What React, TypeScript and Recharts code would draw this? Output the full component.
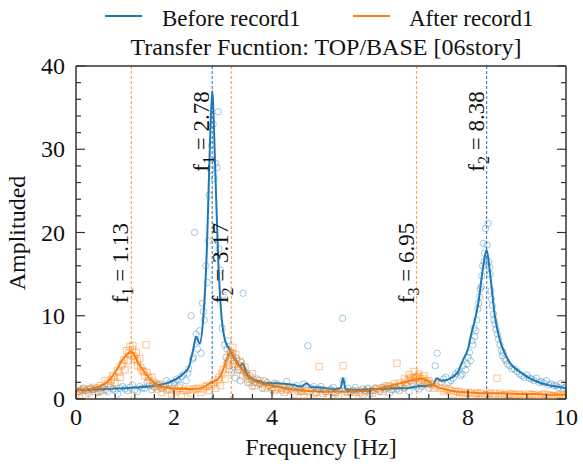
import { ComposedChart, Line, Scatter, XAxis, YAxis, ReferenceLine } from 'recharts'

const BLUE = '#1f77b4'
const ORANGE = '#ff7f0e'
const AXIS = '#333'
const FONT = '"Liberation Serif", "Times New Roman", serif'

const xTicks = [0, 0.4, 0.8, 1.2, 1.6, 2, 2.4, 2.8, 3.2, 3.6, 4, 4.4, 4.8, 5.2, 5.6, 6, 6.4, 6.8, 7.2, 7.6, 8, 8.4, 8.8, 9.2, 9.6, 10]
const yTicks = [0, 2, 4, 6, 8, 10, 12, 14, 16, 18, 20, 22, 24, 26, 28, 30, 32, 34, 36, 38, 40]

// smoothed transfer function, before record1
const beforeFreq = [0, 0.3, 0.6, 1.0, 1.3, 1.6, 1.9, 2.1, 2.2, 2.3, 2.39, 2.45, 2.52, 2.6, 2.67, 2.73, 2.78, 2.84, 2.9, 2.97, 3.04, 3.14, 3.22, 3.28, 3.34, 3.4, 3.48, 3.6, 3.75, 3.85, 4.1, 4.43, 4.6, 4.71, 4.8, 4.91, 5.1, 5.3, 5.4, 5.45, 5.5, 5.6, 5.8, 6.0, 6.27, 6.5, 6.75, 6.95, 7.15, 7.29, 7.36, 7.45, 7.57, 7.7, 7.8, 7.9, 8.0, 8.07, 8.14, 8.21, 8.31, 8.38, 8.45, 8.55, 8.65, 8.75, 8.86, 9.0, 9.2, 9.4, 9.61, 9.8, 10]
const beforeAmp = [1.1, 1.1, 1.2, 1.3, 1.4, 1.6, 2.0, 2.6, 3.1, 3.8, 5.9, 7.5, 6.7, 9.9, 17.9, 29.9, 37.0, 27.9, 17.1, 9.9, 7.1, 5.9, 5.0, 4.5, 3.9, 4.3, 3.1, 2.4, 2.1, 1.9, 1.9, 1.7, 1.5, 1.9, 1.4, 1.4, 1.3, 1.2, 1.3, 2.5, 1.2, 1.1, 1.1, 1.2, 1.2, 1.3, 1.3, 1.5, 1.6, 1.7, 2.5, 2.2, 2.3, 2.7, 3.3, 4.7, 6.0, 7.9, 9.5, 11.5, 15.9, 17.9, 15.1, 9.9, 7.1, 5.5, 4.3, 3.5, 2.7, 2.1, 1.7, 1.5, 1.3]

// smoothed transfer function, after record1
const afterFreq = [0, 0.3, 0.55, 0.7, 0.83, 0.97, 1.05, 1.12, 1.2, 1.27, 1.35, 1.44, 1.55, 1.65, 1.8, 1.92, 2.2, 2.39, 2.6, 2.73, 2.85, 2.94, 3.02, 3.07, 3.16, 3.22, 3.28, 3.38, 3.46, 3.55, 3.76, 4.1, 4.5, 4.91, 5.25, 5.6, 5.93, 6.15, 6.34, 6.5, 6.61, 6.75, 6.88, 7.0, 7.09, 7.2, 7.29, 7.4, 7.57, 7.75, 7.97, 8.3, 8.65, 9.0, 9.4, 9.7, 10]
const afterAmp = [1.0, 1.2, 1.7, 2.4, 3.5, 4.9, 5.4, 5.7, 5.2, 4.3, 3.6, 2.9, 2.2, 1.7, 1.4, 1.3, 1.2, 1.2, 1.4, 1.9, 2.2, 2.7, 3.8, 4.7, 5.7, 5.1, 4.3, 3.7, 3.0, 2.5, 1.9, 1.5, 1.1, 0.9, 0.9, 0.9, 1.0, 1.2, 1.5, 1.7, 1.9, 2.1, 2.3, 2.4, 2.4, 2.1, 1.7, 1.4, 1.1, 0.9, 0.8, 0.7, 0.7, 0.6, 0.6, 0.5, 0.5]

// raw spectrum points [freq, amp]
const beforeRaw = [
  [0.05, 0.9], [0.15, 1.3], [0.25, 0.7], [0.35, 1.1], [0.45, 0.8], [0.55, 1.4], [0.65, 0.9], [0.75, 1.2], [0.85, 0.6], [0.95, 1.5],
  [1.05, 1.0], [1.15, 1.7], [1.25, 0.9], [1.35, 1.3], [1.45, 2.0], [1.55, 1.1], [1.65, 1.8], [1.75, 1.3], [1.85, 2.2], [1.95, 1.6],
  [2.05, 2.4], [2.12, 1.7], [2.2, 3.0], [2.25, 2.2], [2.3, 3.6], [2.35, 10.0], [2.38, 4.8], [2.42, 20.0], [2.45, 7.8], [2.48, 6.0],
  [2.52, 8.2], [2.55, 5.5], [2.58, 11.5], [2.62, 9.5], [2.65, 16], [2.68, 14], [2.7, 19], [2.72, 24.5], [2.75, 27.5], [2.77, 30.5],
  [2.8, 33], [2.82, 26.5], [2.85, 28.3], [2.88, 27.8], [2.9, 34.5], [2.92, 18], [2.95, 15.5], [2.98, 8.5], [3.0, 12.5], [3.03, 6.5],
  [3.06, 5.0], [3.1, 7.0], [3.13, 4.0], [3.17, 3.2], [3.2, 5.2], [3.25, 2.5], [3.3, 3.8], [3.35, 2.2], [3.41, 12.7], [3.45, 3.2],
  [3.5, 2.0], [3.55, 2.8], [3.6, 1.5], [3.7, 2.4], [3.8, 1.3], [3.9, 2.0], [4.0, 1.1], [4.1, 1.8], [4.2, 1.0], [4.3, 2.1],
  [4.4, 1.2], [4.5, 1.6], [4.6, 0.9], [4.73, 6.4], [4.8, 1.3], [4.9, 0.8], [5.0, 1.5], [5.1, 0.9], [5.2, 1.2], [5.3, 0.7],
  [5.44, 9.7], [5.5, 1.1], [5.6, 0.8], [5.7, 1.4], [5.8, 0.7], [5.9, 1.0], [6.0, 0.6], [6.1, 1.3], [6.2, 0.9], [6.3, 1.2],
  [6.4, 0.7], [6.5, 1.5], [6.6, 1.0], [6.7, 1.3], [6.8, 0.9], [6.9, 1.6], [7.0, 1.2], [7.1, 1.8], [7.2, 1.3], [7.33, 4.0],
  [7.37, 5.5], [7.45, 2.0], [7.55, 2.6], [7.65, 2.2], [7.75, 3.0], [7.85, 2.8], [7.9, 4.0], [7.95, 3.5], [8.0, 5.0], [8.05, 4.6],
  [8.1, 6.5], [8.14, 7.5], [8.18, 9.5], [8.22, 11.5], [8.25, 13.2], [8.28, 14.8], [8.31, 18.7], [8.34, 17.5], [8.36, 20.5], [8.41, 21.1],
  [8.42, 16.5], [8.45, 15.0], [8.48, 12.0], [8.52, 10.2], [8.55, 9.0], [8.6, 7.8], [8.65, 6.5], [8.7, 5.2], [8.75, 4.8], [8.8, 4.2],
  [8.9, 3.6], [9.0, 3.3], [9.1, 2.8], [9.2, 2.9], [9.3, 2.4], [9.4, 2.5], [9.5, 2.1], [9.6, 2.2], [9.7, 1.8], [9.8, 1.6],
  [9.9, 1.9], [10.0, 1.4],
  [0.1, 1.1], [0.2, 1.0], [0.3, 1.3], [0.4, 1.2], [0.5, 0.9], [0.6, 1.1], [0.7, 1.4], [0.8, 1.0], [0.9, 1.3], [1.0, 1.2],
  [1.1, 1.4], [1.2, 1.1], [1.3, 1.5], [1.4, 1.3], [1.5, 1.6], [1.6, 1.4], [1.7, 1.7], [1.8, 1.5], [1.9, 1.9], [2.0, 2.0],
  [2.08, 2.2], [2.15, 2.7], [2.28, 3.1], [2.4, 5.0], [2.5, 6.9], [2.6, 10.5], [3.08, 6.0], [3.15, 5.6], [3.22, 4.6], [3.28, 4.9],
  [3.32, 3.5], [3.38, 4.4], [3.48, 2.9], [3.58, 2.3], [3.65, 2.0], [3.75, 1.8], [3.85, 2.2], [3.95, 1.6], [4.05, 1.9], [4.25, 1.5],
  [4.35, 1.4], [4.55, 1.2], [4.65, 1.8], [4.85, 1.5], [4.95, 1.2], [5.05, 1.1], [5.25, 1.4], [5.35, 1.0], [5.45, 2.2], [5.55, 1.3],
  [5.65, 1.0], [5.85, 1.2], [5.95, 1.3], [6.05, 1.0], [6.25, 1.4], [6.45, 1.1], [6.55, 1.2], [6.75, 1.6], [6.95, 1.4], [7.05, 1.5],
  [7.25, 1.8], [7.5, 2.4], [7.6, 2.0], [7.7, 2.5], [7.8, 3.3], [7.88, 3.0], [7.98, 4.2], [8.03, 5.6], [8.08, 7.0], [8.12, 8.5],
  [8.16, 8.2], [8.2, 10.8], [8.24, 12.3], [8.27, 13.5], [8.3, 16.0], [8.33, 16.5], [8.39, 18.5], [8.44, 15.8], [8.47, 13.0], [8.5, 11.2],
  [8.53, 9.5], [8.57, 8.4], [8.62, 7.2], [8.68, 5.8], [8.72, 5.6], [8.78, 4.6], [8.85, 4.0], [8.95, 3.6], [9.05, 3.0], [9.15, 2.6],
  [9.25, 2.5], [9.35, 2.2], [9.45, 2.0], [9.55, 1.9], [9.65, 1.7], [9.75, 1.6], [9.85, 1.4], [9.95, 1.3],
]
const afterRaw = [
  [0.0, 0.6], [0.1, 1.0], [0.2, 0.5], [0.3, 1.2], [0.4, 0.9], [0.5, 1.6], [0.55, 1.0], [0.6, 2.2], [0.7, 1.6], [0.75, 2.8],
  [0.8, 2.0], [0.85, 3.4], [0.9, 2.6], [0.95, 4.2], [1.0, 3.5], [1.03, 5.8], [1.06, 4.6], [1.1, 6.3], [1.13, 5.2], [1.16, 6.4],
  [1.2, 4.8], [1.23, 5.6], [1.26, 4.0], [1.3, 4.9], [1.35, 3.4], [1.43, 6.5], [1.4, 2.8], [1.45, 3.2], [1.5, 2.2], [1.55, 2.6],
  [1.6, 1.6], [1.65, 1.2], [1.7, 1.8], [1.75, 0.8], [1.85, 1.1], [1.95, 0.6], [2.05, 0.9], [2.15, 0.5], [2.25, 1.0], [2.35, 0.7],
  [2.45, 1.2], [2.55, 0.8], [2.65, 1.5], [2.72, 1.0], [2.8, 1.8], [2.85, 1.3], [2.9, 2.3], [2.95, 1.6], [3.0, 3.5], [3.05, 2.4],
  [3.1, 4.5], [3.13, 3.6], [3.17, 5.0], [3.2, 6.2], [3.23, 4.2], [3.26, 5.3], [3.3, 3.5], [3.35, 4.5], [3.4, 2.8], [3.45, 3.8],
  [3.5, 2.4], [3.55, 2.0], [3.6, 3.0], [3.65, 1.6], [3.75, 2.2], [3.85, 1.3], [3.95, 1.7], [4.05, 1.0], [4.15, 1.4], [4.25, 0.8],
  [4.35, 1.2], [4.45, 0.6], [4.55, 1.0], [4.65, 0.5], [4.75, 0.9], [4.85, 0.6], [4.96, 3.9], [5.05, 0.7], [5.15, 0.4], [5.25, 0.9],
  [5.35, 0.5], [5.45, 4.0], [5.55, 0.8], [5.65, 0.4], [5.75, 1.0], [5.85, 0.6], [5.95, 1.1], [6.05, 0.7], [6.15, 1.3], [6.25, 0.9],
  [6.35, 1.6], [6.45, 1.2], [6.55, 4.3], [6.6, 1.9], [6.65, 1.4], [6.7, 2.4], [6.75, 1.8], [6.8, 2.9], [6.85, 2.2], [6.9, 3.3],
  [6.95, 2.6], [7.0, 3.0], [7.05, 2.1], [7.1, 2.8], [7.15, 1.7], [7.2, 2.2], [7.3, 1.3], [7.4, 1.7], [7.5, 0.9], [7.6, 1.2],
  [7.7, 0.6], [7.8, 0.9], [7.9, 0.5], [8.0, 0.8], [8.1, 0.4], [8.2, 0.7], [8.3, 0.3], [8.4, 0.6], [8.5, 0.4], [8.59, 2.5],
  [8.7, 0.5], [8.8, 0.3], [8.9, 0.6], [9.0, 0.3], [9.1, 0.5], [9.2, 0.2], [9.3, 0.5], [9.4, 0.3], [9.5, 0.5], [9.6, 0.2],
  [9.7, 0.4], [9.8, 0.3], [9.9, 0.5], [10.0, 0.2],
  [0.05, 0.9], [0.15, 1.2], [0.25, 1.1], [0.35, 1.4], [0.45, 1.3], [0.65, 1.9], [0.72, 2.3], [0.78, 2.6], [0.88, 3.2], [0.92, 4.0],
  [0.98, 4.7], [1.08, 5.5], [1.15, 5.9], [1.18, 5.1], [1.25, 4.6], [1.32, 3.8], [1.38, 3.3], [1.48, 2.6], [1.58, 2.0], [1.68, 1.5],
  [1.78, 1.3], [1.9, 1.2], [2.0, 1.1], [2.1, 1.3], [2.2, 1.0], [2.3, 1.2], [2.4, 1.1], [2.5, 1.3], [2.6, 1.2], [2.68, 1.6],
  [2.76, 1.5], [2.82, 2.0], [2.92, 2.6], [2.98, 3.0], [3.08, 4.1], [3.15, 5.6], [3.19, 5.5], [3.28, 4.6], [3.32, 4.0], [3.42, 3.4],
  [3.48, 3.0], [3.58, 2.5], [3.7, 2.0], [3.8, 1.8], [3.9, 1.5], [4.0, 1.4], [4.1, 1.2], [4.2, 1.3], [4.3, 1.1], [4.4, 1.0],
  [4.6, 0.9], [4.7, 1.0], [4.9, 0.8], [5.1, 0.9], [5.3, 0.8], [5.5, 0.9], [5.7, 0.8], [5.9, 0.9], [6.1, 1.1], [6.2, 1.2],
  [6.3, 1.4], [6.4, 1.5], [6.5, 1.8], [6.72, 2.0], [6.78, 2.3], [6.82, 2.5], [6.88, 2.6], [6.92, 2.5], [6.98, 2.7], [7.02, 2.4],
  [7.08, 2.5], [7.12, 2.2], [7.18, 2.0], [7.25, 1.8], [7.35, 1.5], [7.45, 1.3], [7.55, 1.1], [7.65, 1.0], [7.75, 0.9], [7.85, 0.8],
  [7.95, 0.7], [8.05, 0.7], [8.15, 0.6], [8.25, 0.7], [8.35, 0.5], [8.45, 0.7], [8.55, 0.6], [8.65, 0.7], [8.75, 0.5], [8.85, 0.6],
  [8.95, 0.5], [9.05, 0.6], [9.15, 0.4], [9.25, 0.6], [9.35, 0.5], [9.45, 0.4], [9.55, 0.6], [9.65, 0.5], [9.75, 0.4], [9.85, 0.5],
  [9.95, 0.4],
]

const beforePeaks = [2.78, 8.38]
const afterPeaks = [1.13, 3.17, 6.95]

const toPts = (xs: number[], ys: number[]) => xs.map((x, i) => ({ x, y: ys[i] }))
const beforeLine = toPts(beforeFreq, beforeAmp)
const afterLine = toPts(afterFreq, afterAmp)
const beforePts = beforeRaw.map(([x, y]) => ({ x, y }))
const afterPts = afterRaw.map(([x, y]) => ({ x, y }))

const txt = { fontFamily: FONT, fontSize: 24, fill: '#111' }

const BottomTick = ({ x, y, payload }: any) => {
  const major = payload.value % 2 === 0
  return (
    <g>
      <line x1={x} x2={x} y1={y} y2={y - (major ? 9 : 5)} stroke={AXIS} strokeWidth={1.2} />
      {major && <text x={x} y={y + 26} textAnchor="middle" {...txt}>{payload.value}</text>}
    </g>
  )
}
const TopTick = ({ x, y, payload }: any) => {
  const major = payload.value % 2 === 0
  return <line x1={x} x2={x} y1={y} y2={y + (major ? 9 : 5)} stroke={AXIS} strokeWidth={1.2} />
}
const LeftTick = ({ x, y, payload }: any) => {
  const major = payload.value % 10 === 0
  return (
    <g>
      <line x1={x} x2={x + (major ? 9 : 5)} y1={y} y2={y} stroke={AXIS} strokeWidth={1.2} />
      {major && <text x={x - 11} y={y + 8} textAnchor="end" {...txt}>{payload.value}</text>}
    </g>
  )
}
const RightTick = ({ x, y, payload }: any) => {
  const major = payload.value % 10 === 0
  return <line x1={x} x2={x - (major ? 9 : 5)} y1={y} y2={y} stroke={AXIS} strokeWidth={1.2} />
}

// rotated "f_n = value" annotation next to a peak line; level is the amplitude where the text starts
const peakLabel = (n: number, f: number, level: number) => (props: any) => {
  const vb = props.viewBox
  const bx = vb.x - 3
  const by = vb.y + vb.height * (1 - level / 40)
  return (
    <text x={bx} y={by} transform={`rotate(-90 ${bx} ${by})`} {...txt} fontSize={23}>
      f<tspan dy={5} fontSize={16}>{n}</tspan>
      <tspan dy={-5}>{` = ${f.toFixed(2)}`}</tspan>
    </text>
  )
}

const Circle = (p: any) => <circle cx={p.cx} cy={p.cy} r={3.2} fill="none" stroke={BLUE} strokeOpacity={0.4} strokeWidth={1} />
const Square = (p: any) => <rect x={p.cx - 3.2} y={p.cy - 3.2} width={6.4} height={6.4} fill="none" stroke={ORANGE} strokeOpacity={0.45} strokeWidth={1} />

export default function App() {
  const W = 583
  const H = 468
  const axisLine = { stroke: AXIS, strokeWidth: 1.5 }
  return (
    <div style={{ position: 'relative', width: W, height: H }}>
      <style>{'body{margin:0}'}</style>
      <ComposedChart width={W} height={H} margin={{ top: 65, right: 16, bottom: 68, left: 75 }}>
        <XAxis dataKey="x" type="number" domain={[0, 10]} ticks={xTicks} interval={0} height={1}
          tickSize={0} tickMargin={0} tickLine={false} tick={(p: any) => <BottomTick {...p} />}
          axisLine={axisLine} allowDataOverflow />
        <XAxis xAxisId="top" orientation="top" type="number" domain={[0, 10]} ticks={xTicks} interval={0} height={1}
          tickSize={0} tickMargin={0} tickLine={false} tick={(p: any) => <TopTick {...p} />}
          axisLine={axisLine} allowDataOverflow />
        <YAxis dataKey="y" type="number" domain={[0, 40]} ticks={yTicks} interval={0} width={1}
          tickSize={0} tickMargin={0} tickLine={false} tick={(p: any) => <LeftTick {...p} />}
          axisLine={axisLine} allowDataOverflow />
        <YAxis yAxisId="right" orientation="right" type="number" domain={[0, 40]} ticks={yTicks} interval={0} width={1}
          tickSize={0} tickMargin={0} tickLine={false} tick={(p: any) => <RightTick {...p} />}
          axisLine={axisLine} allowDataOverflow />

        <Scatter data={beforePts} dataKey="y" shape={Circle} isAnimationActive={false} />
        <Line data={beforeLine} dataKey="y" type="monotone" stroke={BLUE} strokeWidth={2} dot={false} isAnimationActive={false} />
        <Scatter data={afterPts} dataKey="y" shape={Square} isAnimationActive={false} />
        <Line data={afterLine} dataKey="y" type="monotone" stroke={ORANGE} strokeWidth={2} dot={false} isAnimationActive={false} />

        {beforePeaks.map((f, i) => (
          <ReferenceLine key={`b${f}`} x={f} stroke={BLUE} strokeOpacity={0.85} strokeWidth={1.2} strokeDasharray="3 2"
            label={peakLabel(i + 1, f, 27.3)} />
        ))}
        {afterPeaks.map((f, i) => (
          <ReferenceLine key={`a${f}`} x={f} stroke={ORANGE} strokeOpacity={0.7} strokeWidth={1.2} strokeDasharray="3 2"
            label={peakLabel(i + 1, f, 11.5)} />
        ))}
      </ComposedChart>

      <svg width={W} height={H} style={{ position: 'absolute', left: 0, top: 0, pointerEvents: 'none' }}>
        <line x1={105} x2={142} y1={16} y2={16} stroke={BLUE} strokeWidth={2} />
        <text x={162} y={26} {...txt} fontSize={23}>Before record1</text>
        <line x1={353} x2={390} y1={16} y2={16} stroke={ORANGE} strokeWidth={2} />
        <text x={409} y={26} {...txt} fontSize={23}>After record1</text>
        <text x={326} y={55} textAnchor="middle" {...txt}>Transfer Fucntion: TOP/BASE [06story]</text>
        <text x={321} y={455} textAnchor="middle" {...txt}>Frequency [Hz]</text>
        <text x={25} y={233} textAnchor="middle" transform="rotate(-90 25 233)" {...txt}>Amplituded</text>
      </svg>
    </div>
  )
}
